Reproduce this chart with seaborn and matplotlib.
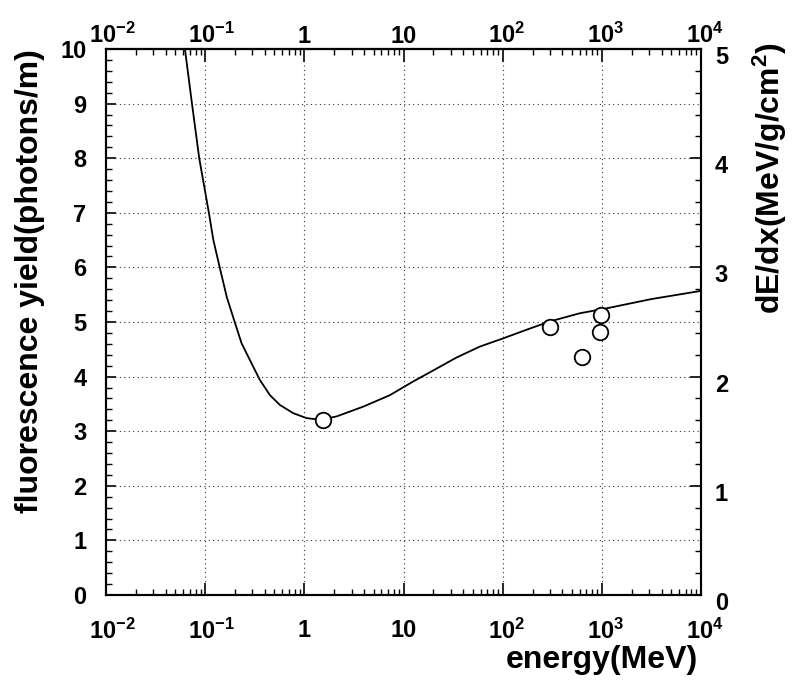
import numpy as np
import pandas as pd
import matplotlib
matplotlib.use("Agg")
import matplotlib.pyplot as plt
import matplotlib.ticker as mticker
import matplotlib.transforms as mtransforms
import seaborn as sns

# ---- data ----
curve_energy = [0.0575, 0.0625, 0.0736, 0.0871, 0.109, 0.121, 0.141, 0.165, 0.200, 0.233,
                0.294, 0.356, 0.450, 0.568, 0.773, 1.05, 1.44, 2.11, 3.93, 7.29,
                12.5, 18.5, 34.3, 58.9, 101, 188, 299, 600, 1114, 3162, 10000]
curve_dedx = [5.25, 5.0, 4.5, 4.0, 3.5, 3.25, 2.99, 2.73, 2.49, 2.305,
              2.12, 1.97, 1.83, 1.74, 1.665, 1.62, 1.605, 1.635, 1.725, 1.83,
              1.955, 2.04, 2.175, 2.275, 2.35, 2.44, 2.505, 2.58, 2.625, 2.71, 2.785]

point_energy = [1.53, 299, 638, 990, 955]
point_yield = [3.21, 4.91, 4.35, 5.13, 4.82]

x_ticks = [1e-2, 1e-1, 1, 10, 1e2, 1e3, 1e4]
x_tick_labels = [r'$10^{-2}$', r'$10^{-1}$', '1', '10', r'$10^{2}$', r'$10^{3}$', r'$10^{4}$']
left_ticks = [0, 1, 2, 3, 4, 5, 6, 7, 8, 9, 10]
right_ticks = [0, 1, 2, 3, 4, 5]

xlabel = 'energy(MeV)'
ylabel_left = 'fluorescence yield(photons/m)'
ylabel_right = r'dE/dx(MeV/g/cm$^{2}$)'

curve_df = pd.DataFrame({'energy': curve_energy, 'dedx': curve_dedx})
pts_df = pd.DataFrame({'energy': point_energy, 'yield': point_yield})

sns.set_style("ticks")
plt.rcParams['font.family'] = ['Liberation Sans', 'DejaVu Sans']
plt.rcParams['font.weight'] = 'bold'
plt.rcParams['mathtext.fontset'] = 'custom'
plt.rcParams['mathtext.rm'] = 'Liberation Sans:bold'
plt.rcParams['mathtext.it'] = 'Liberation Sans:bold'
plt.rcParams['mathtext.bf'] = 'Liberation Sans:bold'
plt.rcParams['mathtext.sf'] = 'Liberation Sans:bold'
plt.rcParams['mathtext.default'] = 'rm'
for key in ('text.color', 'axes.labelcolor', 'xtick.color', 'ytick.color', 'axes.edgecolor'):
    plt.rcParams[key] = 'black'

fig = plt.figure(figsize=(7.93, 6.81), dpi=100)
W, H = 793, 681
L, R, T, B = 106, 701, 49, 595
ax = fig.add_axes([L / W, 1 - B / H, (R - L) / W, (B - T) / H])

ax.set_xscale('log')
ax.set_xlim(1e-2, 1e4)
ax.set_ylim(0, 10)

sns.scatterplot(data=pts_df, x='energy', y='yield', ax=ax, marker='o', s=125,
                facecolor='white', edgecolor='black', linewidth=1.3, zorder=5, legend=False)

ax2 = ax.twinx()
ax2.set_ylim(0, 5)
sns.lineplot(data=curve_df, x='energy', y='dedx', ax=ax2, color='black', linewidth=1.3,
             legend=False, zorder=4)
ax2.set_xscale('log')
ax2.set_xlim(1e-2, 1e4)
ax2.set_xlabel('')
ax.set_zorder(ax2.get_zorder() + 1)
ax.patch.set_visible(False)

# grid
for gx in x_ticks[1:-1]:
    ax.axvline(gx, color='#333333', linestyle=(0, (1, 3)), linewidth=0.8, zorder=1)
for gy in left_ticks[1:-1]:
    ax.axhline(gy, color='#333333', linestyle=(0, (1, 3)), linewidth=0.8, zorder=1)

# ticks
ax.xaxis.set_major_locator(mticker.FixedLocator(x_ticks))
ax.xaxis.set_major_formatter(mticker.FixedFormatter(x_tick_labels))
ax.xaxis.set_minor_locator(mticker.LogLocator(base=10, subs=np.arange(2, 10), numticks=20))
ax.xaxis.set_minor_formatter(mticker.NullFormatter())
ax.yaxis.set_major_locator(mticker.FixedLocator(left_ticks))
ax.yaxis.set_minor_locator(mticker.MultipleLocator(0.2))
ax2.yaxis.set_major_locator(mticker.FixedLocator(right_ticks))
ax2.yaxis.set_minor_locator(mticker.MultipleLocator(0.2))

ax.tick_params(axis='x', which='both', direction='in', top=True, labeltop=False,
               bottom=True, labelbottom=True, labelsize=17, width=1.2, colors='black')
ax.tick_params(axis='x', which='major', length=9, pad=17)
ax.tick_params(axis='x', which='minor', length=4.5, width=1.0)
ax.tick_params(axis='y', which='both', direction='in', left=True, right=False,
               labelsize=17, width=1.2, colors='black')
ax.tick_params(axis='y', which='major', length=7, pad=14)
ax.tick_params(axis='y', which='minor', length=4, width=1.0)
ax2.tick_params(axis='y', which='both', direction='in', right=True, left=False,
                labelsize=17, width=1.2, colors='black')
ax2.tick_params(axis='y', which='major', length=8, pad=10)
ax2.tick_params(axis='y', which='minor', length=4.5, width=1.0)
ax2.tick_params(axis='x', which='both', bottom=False, top=False, labelbottom=False, labeltop=False)

# top tick labels (closer to the frame than the bottom ones)
secax = ax.secondary_xaxis('top')
secax.xaxis.set_major_locator(mticker.FixedLocator(x_ticks))
secax.xaxis.set_major_formatter(mticker.FixedFormatter(x_tick_labels))
secax.xaxis.set_minor_locator(mticker.NullLocator())
secax.tick_params(axis='x', which='both', length=0, pad=1, labelsize=17, colors='black')

for a in (ax, ax2, secax):
    for s in a.spines.values():
        s.set_linewidth(1.5)
        s.set_color('black')

ax.set_xlabel(xlabel, fontsize=23, fontweight='bold', ha='right', va='center', color='black')
ax.xaxis.set_label_coords((698 - L) / (R - L), (B - 660) / (B - T))
ax.set_ylabel(ylabel_left, fontsize=23, fontweight='bold', va='center', ha='center', color='black')
ax.yaxis.set_label_coords((30 - L) / (R - L), (B - 281) / (B - T))
ax2.set_ylabel(ylabel_right, fontsize=23, fontweight='bold', va='center', ha='center', color='black')
ax2.yaxis.set_label_coords((770 - L) / (R - L), (B - 178) / (B - T))

# centre the "10" of power labels on the tick, exponent hanging to the right
fig.canvas.draw()
for lab in list(ax.get_xticklabels()) + list(secax.get_xticklabels()):
    txt = lab.get_text()
    if '^' in txt:
        dx = 6 if '-' in txt else 4
        lab.set_transform(lab.get_transform() +
                          mtransforms.ScaledTranslation(dx / 100, 0, fig.dpi_scale_trans))
for lab in ax2.get_yticklabels():
    lab.set_transform(lab.get_transform() +
                      mtransforms.ScaledTranslation(0, -6 / 100, fig.dpi_scale_trans))

fig.savefig('out.png', dpi=100)
